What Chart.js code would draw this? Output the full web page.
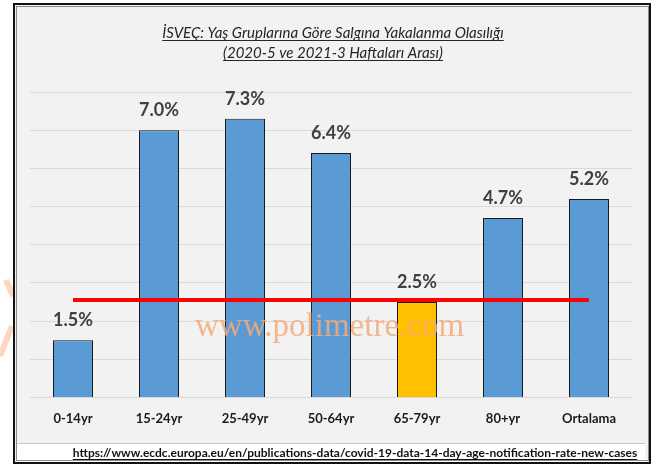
<!DOCTYPE html>
<html>
<head>
<meta charset="utf-8">
<script src="https://cdn.jsdelivr.net/npm/chart.js@4.4.1/dist/chart.umd.min.js"></script>
<style>
  html, body { margin: 0; padding: 0; background: #fff; }
  #wrap { width: 667px; height: 468px; }
</style>
</head>
<body>
<div id="wrap"><canvas id="myChart" width="667" height="468"></canvas></div>
<script>
// data
const categories = ['0-14yr', '15-24yr', '25-49yr', '50-64yr', '65-79yr', '80+yr', 'Ortalama'];
const rates = [1.5, 7.0, 7.3, 6.4, 2.5, 4.7, 5.2];
const refLevel = [2.55, 2.55, 2.55, 2.55, 2.55, 2.55, 2.55];
const barColors = ['#5b9bd5', '#5b9bd5', '#5b9bd5', '#5b9bd5', '#ffc000', '#5b9bd5', '#5b9bd5'];
const titleLines = ['İSVEÇ: Yaş Gruplarına Göre Salgına Yakalanma Olasılığı', '(2020-5 ve 2021-3 Haftaları Arası)'];
const sourceText = 'https://www.ecdc.europa.eu/en/publications-data/covid-19-data-14-day-age-notification-rate-new-cases';
const watermark = 'www.polimetre.com';

// underlined text helper
const drawUnderlined = (ctx, text, x, y, font, color) => {
    ctx.font = font;
    ctx.fillStyle = color;
    ctx.textAlign = 'center';
    ctx.textBaseline = 'alphabetic';
    ctx.fillText(text, x, y);
    const w = ctx.measureText(text).width;
    ctx.strokeStyle = color;
    ctx.lineWidth = 1;
    ctx.beginPath();
    ctx.moveTo(x - w / 2, y + 2.5);
    ctx.lineTo(x + w / 2, y + 2.5);
    ctx.stroke();
};

const framePlugin = {
    id: 'frame',
    beforeDraw(chart) {
        const ctx = chart.ctx;
        ctx.save();
        ctx.fillStyle = '#ffffff';
        ctx.fillRect(0, 0, chart.width, chart.height);

        // faint orange stripes left of the box (watermark pieces)
        ctx.strokeStyle = 'rgba(250,175,125,0.5)';
        ctx.lineWidth = 6;
        ctx.beginPath();
        ctx.moveTo(6, 280);
        ctx.lineTo(13, 296);
        ctx.moveTo(12, 326);
        ctx.lineTo(0, 356);
        ctx.stroke();

        // grey panel
        ctx.fillStyle = '#f2f2f2';
        ctx.fillRect(14, 4, 636, 458);
        // white source strip
        ctx.fillStyle = '#ffffff';
        ctx.fillRect(16, 443, 629, 19);
        ctx.strokeStyle = '#c8c8c8';
        ctx.lineWidth = 1;
        ctx.beginPath();
        ctx.moveTo(16, 443.5);
        ctx.lineTo(645, 443.5);
        ctx.stroke();
        // outer border
        ctx.strokeStyle = '#8c8c8c';
        ctx.lineWidth = 1;
        ctx.strokeRect(16.5, 6.5, 632, 454);
        ctx.strokeStyle = '#111111';
        ctx.lineWidth = 2;
        ctx.strokeRect(14, 4, 636, 459);

        drawUnderlined(ctx, titleLines[0], 333, 38, 'italic 15px Lato', '#262626');
        drawUnderlined(ctx, titleLines[1], 333, 58, 'italic 15px Lato', '#262626');
        drawUnderlined(ctx, sourceText, 355, 457, 'bold 12px Lato', '#111111');
        ctx.restore();
    },
    afterDatasetsDraw(chart) {
        const ctx = chart.ctx;
        ctx.save();
        const meta = chart.getDatasetMeta(1);
        ctx.font = 'bold 18px Lato';
        ctx.fillStyle = '#404040';
        ctx.textAlign = 'center';
        ctx.textBaseline = 'bottom';
        meta.data.forEach((bar, i) => {
            ctx.fillText(rates[i].toFixed(1) + '%', bar.x, bar.y - 11);
        });
        // site watermark over the bars
        ctx.font = '33px "Liberation Serif"';
        ctx.fillStyle = 'rgba(244,170,120,0.85)';
        ctx.textAlign = 'left';
        ctx.textBaseline = 'alphabetic';
        ctx.fillText(watermark, 195, 336);
        ctx.restore();
    },
};

new Chart(document.getElementById('myChart'), {
    data: {
        labels: categories,
        datasets: [
            {
                type: 'line',
                data: refLevel,
                borderColor: '#ff0000',
                borderWidth: 4,
                pointRadius: 0,
                fill: false,
                order: 0,
            },
            {
                type: 'bar',
                data: rates,
                backgroundColor: barColors,
                borderColor: '#1a1a1a',
                borderWidth: 1,
                categoryPercentage: 1,
                barPercentage: 0.465,
                order: 1,
            },
        ],
    },
    options: {
        responsive: false,
        animation: false,
        layout: { padding: { left: 30, right: 35, top: 92, bottom: 27 } },
        plugins: {
            legend: { display: false },
            tooltip: { enabled: false },
        },
        scales: {
            x: {
                grid: { display: false, drawTicks: false },
                border: { display: false },
                ticks: {
                    color: '#1a1a1a',
                    font: { family: 'Lato', size: 13, weight: 'bold' },
                    padding: 14,
                },
            },
            y: {
                min: 0,
                max: 8,
                ticks: { display: false, stepSize: 1 },
                grid: { color: '#d9d9d9', lineWidth: 1, drawTicks: false },
                border: { display: false },
            },
        },
    },
    plugins: [framePlugin],
});
</script>
</body>
</html>
